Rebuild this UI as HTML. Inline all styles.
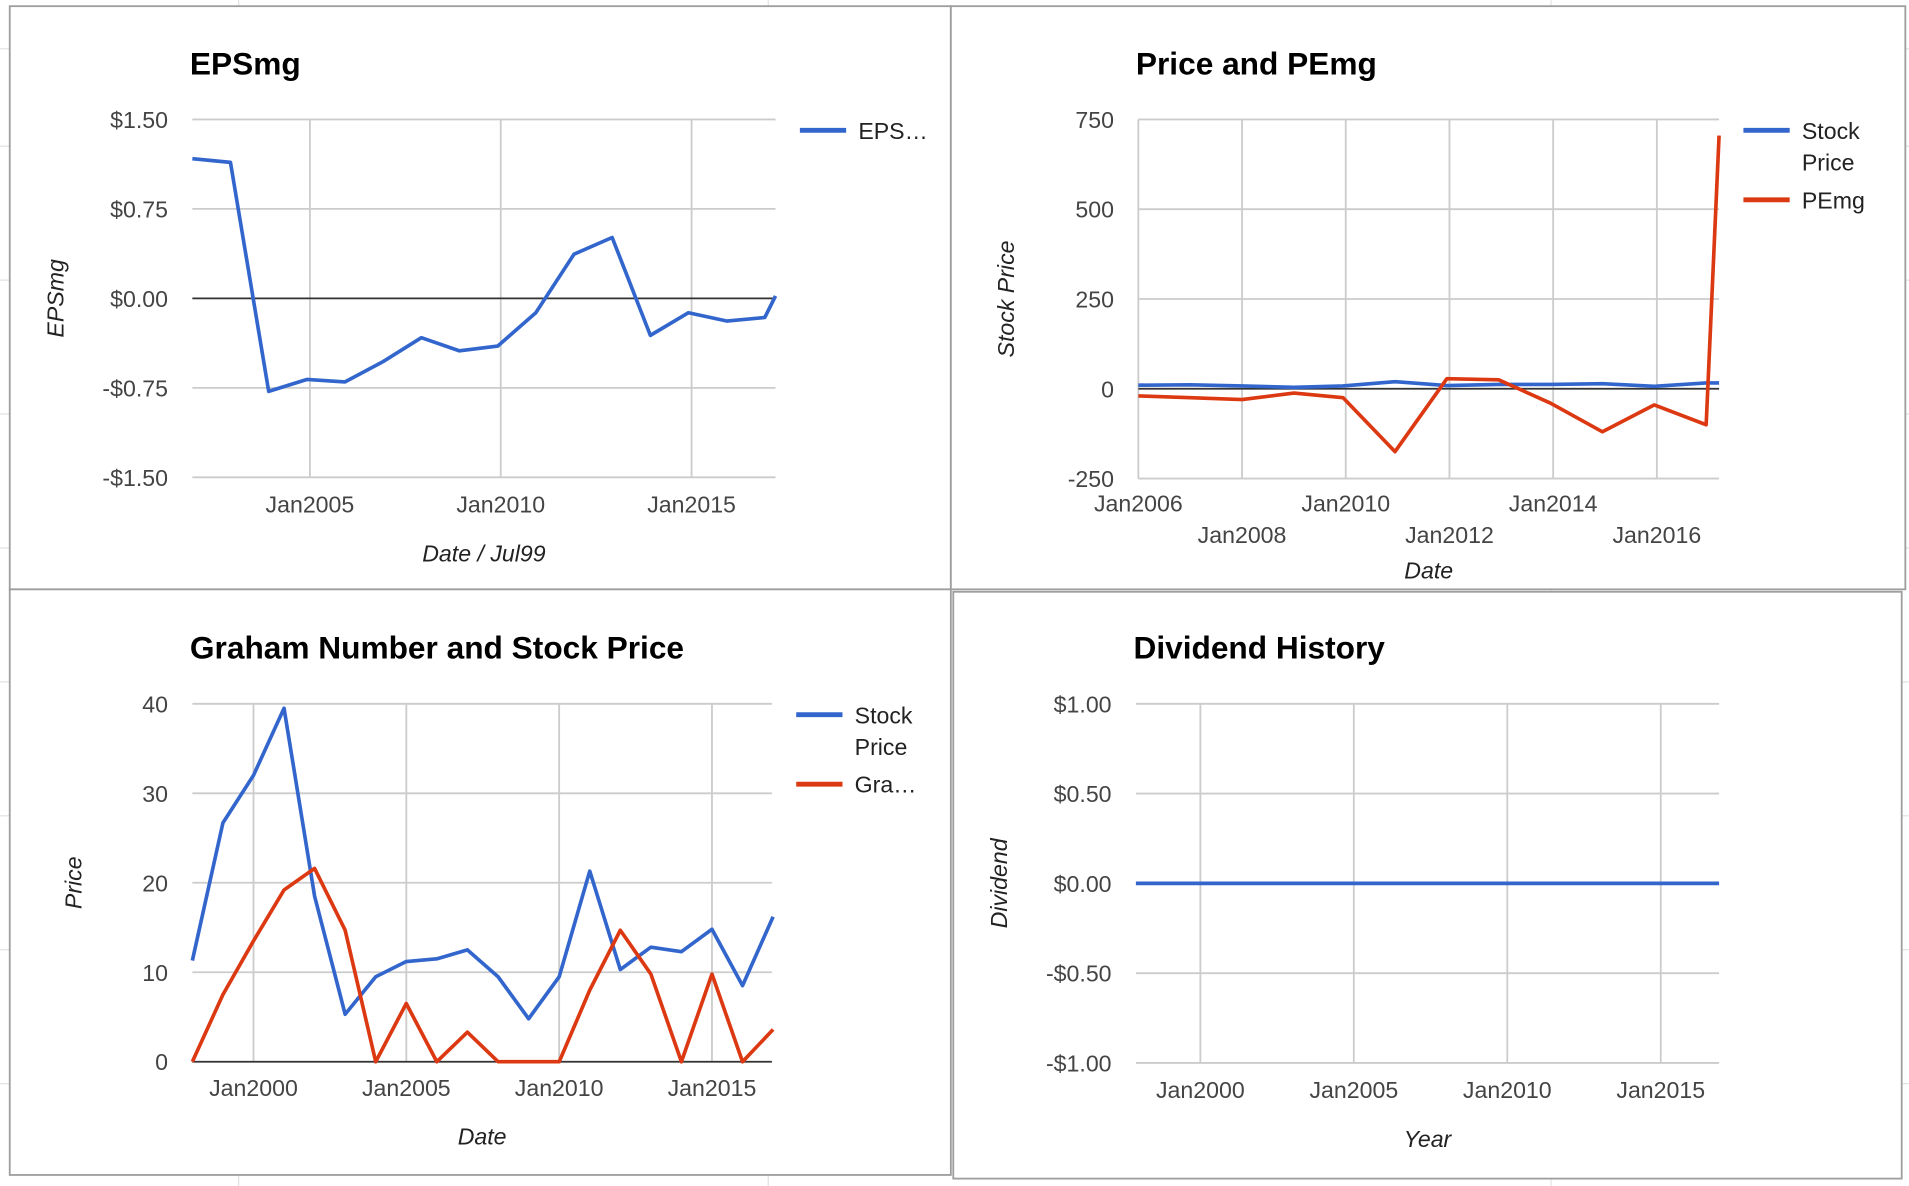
<!DOCTYPE html>
<html><head><meta charset="utf-8">
<style>
html,body{margin:0;padding:0;background:#fff;}
svg{display:block;font-family:"Liberation Sans",sans-serif;}
</style></head>
<body>
<svg id="s" width="1909" height="1186" viewBox="0 0 1568 974">
<g id="bg"></g>
<g id="root"></g>
</svg>
<script>
// ---- Chart 1: EPSmg
const epsYears = [2001.92,2002.92,2003.92,2004.92,2005.92,2006.92,2007.92,2008.92,2009.92,2010.92,2011.92,2012.92,2013.92,2014.92,2015.92,2016.92,2017.2];
const epsValues = [1.17,1.14,-0.78,-0.68,-0.70,-0.53,-0.33,-0.44,-0.40,-0.12,0.37,0.51,-0.31,-0.12,-0.19,-0.16,0.02];
const epsYTicks = [1.5,0.75,0,-0.75,-1.5];
const epsYLabels = ["$1.50","$0.75","$0.00","-$0.75","-$1.50"];
const epsXTicks = [2005,2010,2015];
const epsXLabels = ["Jan2005","Jan2010","Jan2015"];
// ---- Chart 2: Price and PEmg
const pYears = [2006,2007,2008,2009,2009.95,2010.95,2011.95,2012.95,2013.95,2014.95,2015.95,2016.95,2017.2];
const pStock = [10,11,8,4,8,20,9,12,12,14,7,16,16];
const pPEmg = [-20,-25,-30,-12,-25,-175,28,25,-40,-120,-45,-100,705];
const pYTicks = [750,500,250,0,-250];
const pYLabels = ["750","500","250","0","-250"];
const pXTicks = [2006,2008,2010,2012,2014,2016];
const pXLabels = ["Jan2006","Jan2008","Jan2010","Jan2012","Jan2014","Jan2016"];
// ---- Chart 3: Graham Number and Stock Price
const gYears = [1998,1999,2000,2001,2002,2003,2004,2005,2006,2007,2008,2009,2010,2011,2012,2013,2014,2015,2016,2017];
const gStock = [11.3,26.7,32,39.5,18.5,5.3,9.5,11.2,11.5,12.5,9.5,4.8,9.5,21.3,10.3,12.8,12.3,14.8,8.5,16.2];
const gGraham = [0,7.5,13.5,19.2,21.6,14.7,0,6.5,0,3.3,0,0,0,8,14.7,9.8,0,9.8,0,3.6];
const gYTicks = [40,30,20,10,0];
const gYLabels = ["40","30","20","10","0"];
const gXTicks = [2000,2005,2010,2015];
const gXLabels = ["Jan2000","Jan2005","Jan2010","Jan2015"];
// ---- Chart 4: Dividend History
const dYears = [1998,1999,2000,2001,2002,2003,2004,2005,2006,2007,2008,2009,2010,2011,2012,2013,2014,2015,2016,2017];
const dValues = [0,0,0,0,0,0,0,0,0,0,0,0,0,0,0,0,0,0,0,0];
const dYTicks = [1,0.5,0,-0.5,-1];
const dYLabels = ["$1.00","$0.50","$0.00","-$0.50","-$1.00"];
const dXTicks = [2000,2005,2010,2015];
const dXLabels = ["Jan2000","Jan2005","Jan2010","Jan2015"];

const NS="http://www.w3.org/2000/svg";
function mk(tag,attrs,parent,txt){const e=document.createElementNS(NS,tag);for(const k in attrs)e.setAttribute(k,attrs[k]);if(txt!==undefined)e.textContent=txt;parent.appendChild(e);return e;}
const root=document.getElementById('root');
const bg=document.getElementById('bg');
[196,631,1274].forEach(x=>{mk('line',{x1:x,y1:0,x2:x,y2:974,stroke:'#e2e2e2','stroke-width':1},bg);});
[40,120,230,340,450,560,670,780,890].forEach(y=>{mk('line',{x1:0,y1:y,x2:8,y2:y,stroke:'#e2e2e2'},bg);mk('line',{x1:1562,y1:y,x2:1568,y2:y,stroke:'#e2e2e2'},bg);});

function chart(o){
  const g=mk('g',{},root);
  
  
  const p=mk('rect',{x:o.box[0],y:o.box[1],width:o.box[2],height:o.box[3],fill:'#fff',stroke:'#9e9e9e','stroke-width':1.5},g);
  
  
  const xs=v=>o.L+(v-o.x0)/(o.x1-o.x0)*(o.R-o.L);
  const ys=v=>o.B-(v-o.y0)/(o.y1-o.y0)*(o.B-o.T);
  const t=mk('text',{x:o.L-2,y:o.T-37,'font-size':26,'font-weight':'bold',fill:'#000'},g,o.title);
  
  
  o.yTicks.forEach((v,i)=>{
    const l=mk('line',{x1:o.L,x2:o.R,y1:ys(v),y2:ys(v),stroke:'#ccc','stroke-width':1.5},g);
    
    
    const tx=mk('text',{x:o.L-20,y:ys(v)+7,'font-size':19,fill:'#444','text-anchor':'end'},g,o.yLabels[i]);
    
    
  });
  o.xTicks.forEach((v,i)=>{
    const l=mk('line',{x1:xs(v),x2:xs(v),y1:o.T,y2:o.B,stroke:'#ccc','stroke-width':1.5},g);
    
    
    const row=o.stagger?(i%2):0;
    const tx=mk('text',{x:xs(v),y:o.xLabY+row*26,'font-size':19,fill:'#444','text-anchor':'middle'},g,o.xLabels[i]);
    
    
  });
  if(o.zero){const z=mk('line',{x1:o.L,x2:o.R,y1:ys(0),y2:ys(0),stroke:'#333','stroke-width':1.5},g);
    
    }
  o.series.forEach(s=>{
    const pts=o.xVals.map((x,i)=>xs(x).toFixed(1)+','+ys(s.vals[i]).toFixed(1)).join(' ');
    const pl=mk('polyline',{points:pts,fill:'none',stroke:s.color,'stroke-width':3,'stroke-linejoin':'round'},g);
    
    
  });
  o.legend.forEach(le=>{
    const lg=mk('g',{},g);
    
    
    mk('line',{x1:o.R+20,x2:o.R+58,y1:le.y,y2:le.y,stroke:le.color,'stroke-width':4},lg);
    le.lines.forEach((tx,j)=>mk('text',{x:o.R+68,y:le.y+7+j*26,'font-size':19,fill:'#222'},lg,tx));
  });
  const yt=mk('text',{transform:`translate(${o.yTitleX},${(o.T+o.B)/2}) rotate(-90)`,'font-size':19,'font-style':'italic',fill:'#222','text-anchor':'middle'},g,o.yTitle);
  
  
  const xt=mk('text',{x:(o.L+o.R)/2,y:o.xTitleY,'font-size':19,'font-style':'italic',fill:'#222','text-anchor':'middle'},g,o.xTitle);
  
  
}
const BLUE='#3366cc',RED='#dc3912';
chart({name:'epsmg-chart',box:[8,5,773,479],title:'EPSmg',L:158,R:637,T:98,B:392,x0:2001.92,x1:2017.2,y0:-1.5,y1:1.5,
  yTicks:epsYTicks,yLabels:epsYLabels,xTicks:epsXTicks,xLabels:epsXLabels,xLabY:421,zero:true,xVals:epsYears,
  series:[{name:'epsmg-line',vals:epsValues,color:BLUE}],legend:[{y:107,color:BLUE,lines:['EPS…']}],
  yTitle:'EPSmg',yTitleX:52,xTitle:'Date / Jul99',xTitleY:461});
chart({name:'price-pemg-chart',box:[781,5,784,479],title:'Price and PEmg',L:935,R:1412,T:98,B:393,x0:2006,x1:2017.2,y0:-250,y1:750,
  yTicks:pYTicks,yLabels:pYLabels,xTicks:pXTicks,xLabels:pXLabels,xLabY:420,stagger:true,zero:true,xVals:pYears,
  series:[{name:'stock-price-line',vals:pStock,color:BLUE},{name:'pemg-line',vals:pPEmg,color:RED}],
  legend:[{y:107,color:BLUE,lines:['Stock','Price']},{y:164,color:RED,lines:['PEmg']}],
  yTitle:'Stock Price',yTitleX:833,xTitle:'Date',xTitleY:475});
chart({name:'graham-chart',box:[8,484,773,481],title:'Graham Number and Stock Price',L:158,R:634,T:578,B:872,x0:1998,x1:2016.96,y0:0,y1:40,
  yTicks:gYTicks,yLabels:gYLabels,xTicks:gXTicks,xLabels:gXLabels,xLabY:900,zero:true,xVals:gYears,
  series:[{name:'stock-price-line',vals:gStock,color:BLUE},{name:'graham-number-line',vals:gGraham,color:RED}],
  legend:[{y:587,color:BLUE,lines:['Stock','Price']},{y:644,color:RED,lines:['Gra…']}],
  yTitle:'Price',yTitleX:67,xTitle:'Date',xTitleY:940});
chart({name:'dividend-chart',box:[783,486,779,482],title:'Dividend History',L:933,R:1412,T:578,B:873,x0:1997.9,x1:2016.9,y0:-1,y1:1,
  yTicks:dYTicks,yLabels:dYLabels,xTicks:dXTicks,xLabels:dXLabels,xLabY:902,zero:false,xVals:dYears.map(y=>y-0.1),
  series:[{name:'dividend-line',vals:dValues,color:BLUE}],legend:[],
  yTitle:'Dividend',yTitleX:827,xTitle:'Year',xTitleY:942});
</script>
</body></html>
